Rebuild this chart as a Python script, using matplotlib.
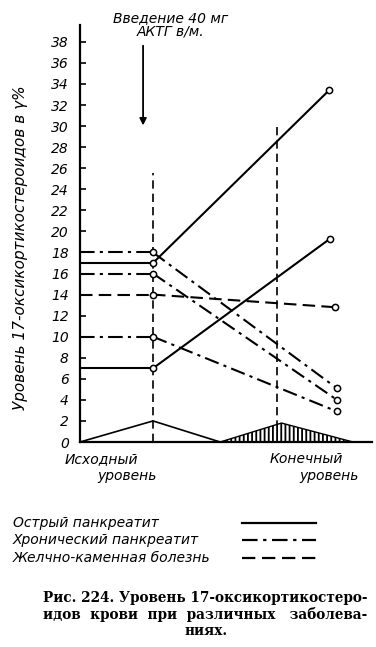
import matplotlib.pyplot as plt
from matplotlib.patches import Polygon

# x positions (axis units, axis runs 0..10)
x_base = 2.5        # "Исходный уровень"
x_final = 6.75      # "Конечный уровень"

# acute pancreatitis (solid)
acute_base = [17, 7]
acute_end = [33.4, 19.3]
acute_end_x = [8.53, 8.56]

# chronic pancreatitis (dash-dot)
chronic_base = [18, 16, 10]
chronic_end = [5.1, 4.0, 2.9]
chronic_end_x = [8.8, 8.8, 8.8]

# gallstone disease (dashed)
gall_base = [14]
gall_end = [12.8]
gall_end_x = [8.73]

# small triangles at the bottom
tri_white_x = [0, 2.5, 4.8]
tri_white_y = [0, 2.0, 0]
tri_hatch_x = [4.8, 6.9, 9.35]
tri_hatch_y = [0, 1.8, 0]

y_ticks = list(range(0, 39, 2))

plt.rcParams['font.family'] = ['DejaVu Sans']

fig = plt.figure(figsize=(3.76, 6.47), dpi=100)
ax = fig.add_axes([80 / 376, 205 / 647, 292 / 376, 417 / 647])
ax.set_xlim(0, 10)
ax.set_ylim(0, 39.6)

lw = 1.5
marker = dict(marker="o", markersize=4.5, markerfacecolor="white", markeredgecolor="black", markeredgewidth=1.1)
dashdot = (0, (7, 2.5, 1.5, 2.5))
dashed = (0, (6, 3))


def draw_series(base, end, end_x, style):
    for b, e, ex in zip(base, end, end_x):
        ax.plot([0, x_base], [b, b], color="black", lw=lw, linestyle=style, zorder=3)
        ax.plot([x_base, ex], [b, e], color="black", lw=lw, linestyle=style, zorder=3)
        ax.plot([x_base, ex], [b, e], linestyle="none", zorder=4, **marker)


draw_series(acute_base, acute_end, acute_end_x, "-")
draw_series(chronic_base, chronic_end, chronic_end_x, dashdot)
draw_series(gall_base, gall_end, gall_end_x, dashed)

# vertical reference lines
ax.plot([x_base, x_base], [0, 25.5], color="black", lw=1.2, linestyle=(0, (5, 3)), zorder=2)
ax.plot([x_final, x_final], [0, 30.3], color="black", lw=1.2, linestyle=(0, (5, 3)), zorder=2)

# bottom triangles
ax.plot(tri_white_x, tri_white_y, color="black", lw=1.2, zorder=2)
plt.rcParams['hatch.linewidth'] = 1.3
ax.add_patch(Polygon(list(zip(tri_hatch_x, tri_hatch_y)), closed=True, facecolor="white",
                     edgecolor="black", hatch="||||", lw=1.0, zorder=2))

# arrow for ACTH injection
ax.annotate("", xy=(2.16, 29.8), xytext=(2.16, 37.9),
            arrowprops=dict(arrowstyle="-|>", color="black", lw=1.3, mutation_scale=10), annotation_clip=False)
fig.text(171 / 376, 1 - 25 / 647, "Введение 40 мг\nАКТГ в/м.", ha="center", va="center",
         fontsize=10, style="italic", linespacing=0.95)

# axes styling
for side in ["top", "right"]:
    ax.spines[side].set_visible(False)
ax.spines["left"].set_linewidth(1.6)
ax.spines["bottom"].set_linewidth(1.6)
ax.set_xticks([])
ax.set_yticks(y_ticks)
ax.set_yticklabels([str(t) for t in y_ticks], fontsize=10, style="italic")
ax.tick_params(axis="y", direction="in", length=4, width=1.2, pad=8)

fig.text(21 / 376, 1 - 248 / 647, "Уровень 17-оксикортикостероидов в γ%", rotation=90,
         ha="center", va="center", fontsize=11, style="italic")

# x labels
fig.text(65 / 376, 1 - 459 / 647, "Исходный", ha="left", va="center", fontsize=10, style="italic")
fig.text(97 / 376, 1 - 476 / 647, "уровень", ha="left", va="center", fontsize=10, style="italic")
fig.text(343 / 376, 1 - 459 / 647, "Конечный", ha="right", va="center", fontsize=10, style="italic")
fig.text(359 / 376, 1 - 476 / 647, "уровень", ha="right", va="center", fontsize=10, style="italic")

# legend
legend_names = ["Острый панкреатит", "Хронический панкреатит", "Желчно-каменная болезнь"]
legend_styles = ["-", dashdot, dashed]
legend_y = [523, 540, 558]
for name, st, yy in zip(legend_names, legend_styles, legend_y):
    fig.text(13 / 376, 1 - yy / 647, name, ha="left", va="center", fontsize=10, style="italic")
    fig.add_artist(plt.Line2D([242 / 376, 316 / 376], [1 - yy / 647, 1 - yy / 647], color="black",
                              lw=1.6, linestyle=st, transform=fig.transFigure))

# caption
cap_font = dict(fontsize=9.8, fontweight="bold", family="DejaVu Serif")
fig.text(43 / 376, 1 - 598 / 647, "Рис. 224. Уровень 17-оксикортикостеро-", ha="left", va="center", **cap_font)
fig.text(43 / 376, 1 - 614 / 647, "идов  крови  при  различных   заболева-", ha="left", va="center", **cap_font)
fig.text(206 / 376, 1 - 631 / 647, "ниях.", ha="center", va="center", **cap_font)

fig.savefig("out.png", dpi=100)
